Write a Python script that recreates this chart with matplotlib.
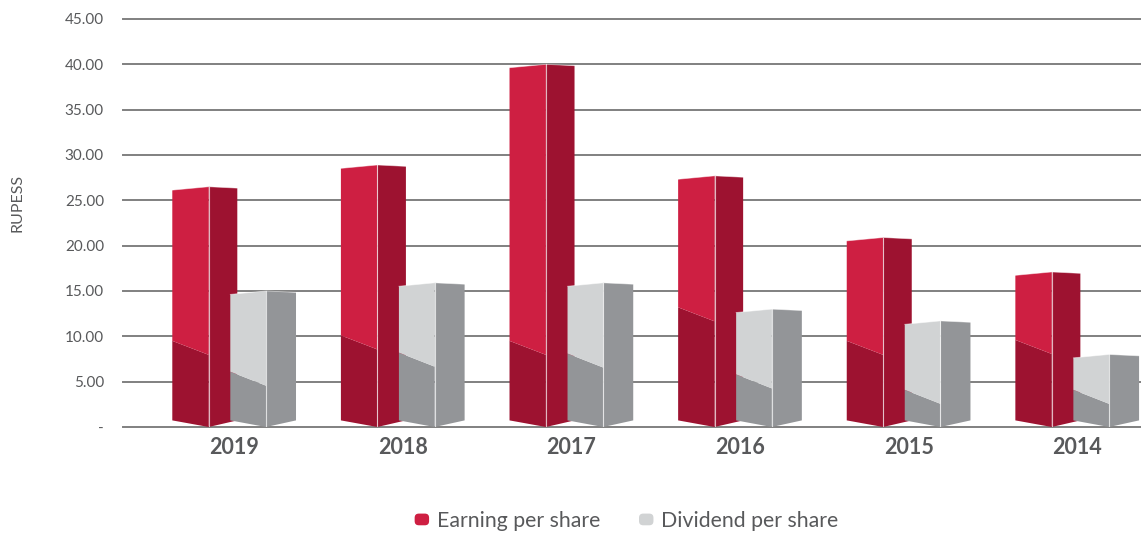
import matplotlib
matplotlib.use('Agg')
import matplotlib.pyplot as plt
import numpy as np
from matplotlib.patches import Patch, FancyBboxPatch
from matplotlib.legend_handler import HandlerPatch
from matplotlib.ticker import FuncFormatter

plt.rcParams['font.family'] = ['Lato', 'DejaVu Sans']

# data
years = ['2019', '2018', '2017', '2016', '2015', '2014']
eps = [26.5, 28.9, 40.0, 27.7, 20.9, 17.1]
dps = [15.0, 15.9, 15.9, 13.0, 11.7, 8.0]
# level where the darker lower shading of the front face starts (decoration)
eps_shade = [9.5, 10.1, 9.5, 13.2, 9.5, 9.6]
dps_shade = [6.1, 8.2, 8.1, 5.8, 4.1, 4.1]

red_light, red_dark = '#CE1F42', '#9D1230'
grey_light, grey_dark = '#D1D3D4', '#939598'
text_col = '#58595B'

fig = plt.figure(figsize=(11.41, 5.35), dpi=100)
ax = fig.add_axes([123 / 1141, 108 / 535, 1018 / 1141, 408 / 535])

# perspective prism shape (x in group units, y in data units)
px_x = 1 / 168.6
px_y = 45 / 408
top_l = 3.4 * px_y
top_r = 1.4 * px_y
bot = 6.6 * px_y
shade_drop = 14 * px_y


def prism(x0, xl, xc, xr, v, shade, light, dark):
    xl, xc, xr = x0 + xl, x0 + xc, x0 + xr
    # side face
    ax.fill([xc, xr, xr, xc], [0, bot, v - top_r, v], color=dark, lw=0, zorder=3)
    # lower dark part of front face
    ax.fill([xl, xc, xc, xl], [bot, 0, shade - shade_drop, shade], color=dark, lw=0, zorder=3)
    # upper light part of front face
    ax.fill([xl, xc, xc, xl], [shade, shade - shade_drop, v, v - top_l], color=light, lw=0, zorder=3)
    # highlight on the front edge
    ax.plot([xc, xc], [0, v], color='white', lw=0.8, alpha=0.7, zorder=4)
    ax.plot([xl, xc, xr], [v - top_l, v, v - top_r], color='white', lw=0.6, alpha=0.5, zorder=4)


for i in range(len(years)):
    prism(i, -61.9 * px_x, -25.5 * px_x, 3.1 * px_x, eps[i], eps_shade[i], red_light, red_dark)
    prism(i, -3.9 * px_x, 31.8 * px_x, 61.8 * px_x, dps[i], dps_shade[i], grey_light, grey_dark)

ax.set_xlim(-0.6595, 5.378)
ax.set_ylim(0, 45)
ax.set_yticks(np.arange(0, 46, 5))
ax.yaxis.set_major_formatter(FuncFormatter(lambda v, p: '-' if v == 0 else f'{v:.2f}'))
ax.set_xticks(range(len(years)))
ax.set_xticklabels(years, fontsize=15.5, fontweight='bold', color=text_col)
ax.tick_params(axis='x', length=0, pad=7)
ax.tick_params(axis='y', length=0, pad=13.7, labelsize=11, labelcolor=text_col)
for s in ax.spines.values():
    s.set_visible(False)
ax.yaxis.grid(True, color='#808080', lw=1.4)
ax.set_axisbelow(True)
for gl in ax.yaxis.get_gridlines():
    gl.set_clip_on(False)

fig.text(17.5 / 1141, 1 - 203 / 535, 'RUPESS', rotation=90, ha='center', va='center',
         fontsize=11.5, color=text_col)


class RoundBox(HandlerPatch):
    def create_artists(self, legend, orig_handle, xdescent, ydescent, width, height, fontsize, trans):
        p = FancyBboxPatch((-xdescent, -ydescent), width, height,
                           boxstyle='round,pad=0,rounding_size=3',
                           facecolor=orig_handle.get_facecolor(), edgecolor='none', transform=trans)
        return [p]


handles = [Patch(facecolor=red_light, label='Earning per share'),
           Patch(facecolor=grey_light, label='Dividend per share')]
leg = fig.legend(handles=handles, loc='center', bbox_to_anchor=(626.5 / 1141, 14 / 535), ncol=2,
                 frameon=False, fontsize=15.3, handlelength=0.68, handleheight=0.47,
                 handletextpad=0.36, columnspacing=1.83, handler_map={Patch: RoundBox()})
for t in leg.get_texts():
    t.set_color(text_col)

fig.savefig('out.png', dpi=100)
